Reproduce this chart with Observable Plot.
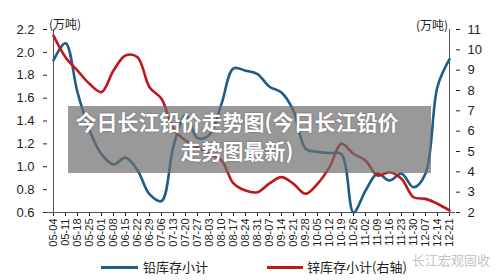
<!DOCTYPE html>
<html><head><meta charset="utf-8">
<script src="https://cdn.jsdelivr.net/npm/d3@7"></script>
<script src="https://cdn.jsdelivr.net/npm/@observablehq/plot@0.6"></script>
<style>
body{margin:0;background:#fff;font-family:"Liberation Sans",Arial,"Noto Sans CJK SC",sans-serif;}
#wrap{position:relative;width:500px;height:280px;overflow:hidden;background:#fff}
#chart svg{display:block}
.abs{position:absolute;white-space:nowrap;color:#222}
.unit{font-size:12px;font-family:"Noto Sans CJK SC","Liberation Sans",sans-serif;}
.leg{font-size:13px;font-family:"Noto Sans CJK SC",sans-serif;top:258px;line-height:18px}
.sw{position:absolute;height:3px;top:266px}
#overlay{position:absolute;left:68px;top:106px;width:363px;height:67px;background:rgba(110,110,110,0.7)}
#title{position:absolute;left:68px;top:107px;width:338px;color:#fff;font-weight:bold;font-size:21px;line-height:29px;text-align:center;font-family:"Noto Sans CJK SC",sans-serif;text-shadow:0 0 2px rgba(0,0,0,0.4)}
#wm{position:absolute;left:412px;top:250px;font-size:13px;color:#c4c4c4;font-family:"Noto Sans CJK SC",sans-serif}
</style></head><body>
<div id="wrap">
  <div id="chart"></div>
  <div class="abs unit" style="left:49px;top:15px">(万吨)</div>
  <div class="abs unit" style="left:416px;top:16px">(万吨)</div>
  <div class="sw" style="left:101px;width:37px;background:#1b5e8a"></div>
  <div class="abs leg" style="left:143px">铅库存小计</div>
  <div class="sw" style="left:267px;width:36px;background:#c0171d"></div>
  <div class="abs leg" style="left:307px">锌库存小计(右轴)</div>
  <div id="wm">长江宏观固收</div>
  <div id="overlay"></div>
  <div id="title">今日长江铅价走势图(今日长江铅价<br>走势图最新)</div>
</div>
<script>
const weeks = ["05-04","05-11","05-18","05-25","06-01","06-08","06-15","06-22","06-29","07-06","07-13","07-20","07-27","08-03","08-10","08-17","08-24","08-31","09-07","09-14","09-21","09-28","10-05","10-12","10-19","10-26","11-02","11-09","11-16","11-23","11-30","12-07","12-14","12-21"];
const leadStock = [1.93,2.08,1.65,1.32,1.11,1.02,1.08,0.97,0.76,0.70,1.18,1.45,1.25,1.28,1.55,1.86,1.84,1.81,1.70,1.65,1.49,1.16,1.13,1.12,1.11,0.60,0.79,0.94,0.88,0.94,0.82,0.94,1.70,1.94];
const zincStock = [10.7,9.64,8.98,8.33,7.92,8.98,9.72,9.64,8.16,7.59,6.12,5.54,5.21,4.89,4.56,3.43,3.08,3.0,3.43,3.74,3.41,2.92,3.41,4.23,5.38,4.89,4.56,3.82,3.98,3.66,2.75,2.67,2.43,2.1];
const leftTicks = [0.6,0.8,1.0,1.2,1.4,1.6,1.8,2.0,2.2];
const rightTicks = [2,3,4,5,6,7,8,9,10,11];

const toLeft = d3.scaleLinear().domain([2,11]).range([0.6,2.2]);
const lead = weeks.map((w,i)=>({week:w, v:leadStock[i]}));
const zinc = weeks.map((w,i)=>({week:w, v:toLeft(zincStock[i])}));

const chart = Plot.plot({
  width:500, height:257,
  marginLeft:47, marginRight:45, marginTop:29, marginBottom:45,
  style:{fontFamily:"Liberation Sans, Arial, sans-serif", color:"#222", background:"#fff"},
  x:{type:"point", domain:weeks, padding:0},
  y:{domain:[0.6,2.2]},
  marks:[
    Plot.axisY(leftTicks,{anchor:"left", tickFormat:d=>d.toFixed(1), fontSize:13, tickSize:4, tickPadding:9, label:null}),
    Plot.axisY(rightTicks.map(t=>toLeft(t)),{anchor:"right", tickFormat:d=>String(Math.round(toLeft.invert(d))), fontSize:13, tickSize:4, tickPadding:8, label:null}),
    Plot.axisX({tickRotate:-90, fontSize:11, tickSize:4, tickPadding:2, label:null}),
    Plot.ruleX([weeks[0], weeks[weeks.length-1]],{y1:0.6, y2:2.2, stroke:"#555"}),
    Plot.ruleY([0.6],{stroke:"#555"}),
    Plot.line(lead,{x:"week", y:"v", stroke:"#1b5e8a", strokeWidth:2.6, curve:"catmull-rom"}),
    Plot.line(zinc,{x:"week", y:"v", stroke:"#c0171d", strokeWidth:2.6, curve:"catmull-rom"})
  ]
});
document.getElementById("chart").appendChild(chart);
</script>
</body></html>
